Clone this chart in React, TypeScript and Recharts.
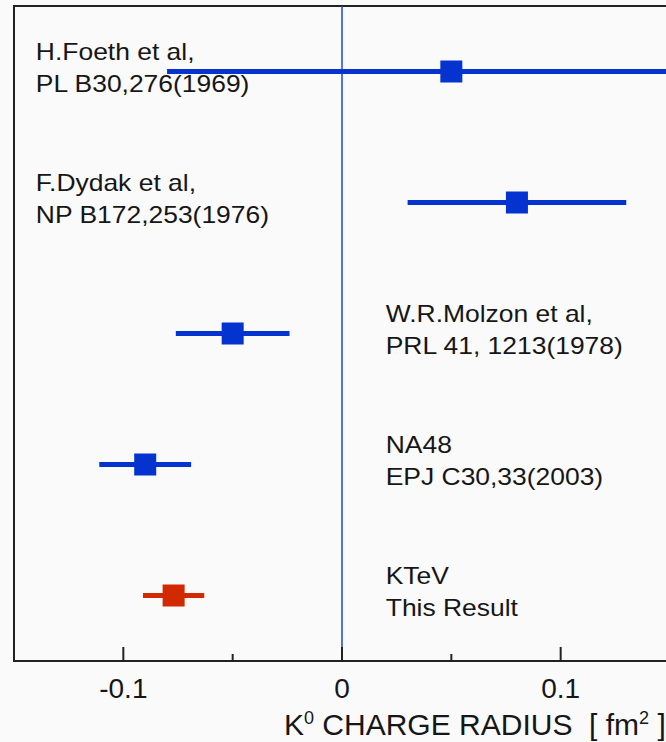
import React from 'react';
import {
  ErrorBar,
  ReferenceArea,
  ReferenceLine,
  Scatter,
  ScatterChart,
  XAxis,
  YAxis,
} from 'recharts';

// K0 mean square charge radius measurements [fm^2]
const authors = ['H.Foeth et al,', 'F.Dydak et al,', 'W.R.Molzon et al,', 'NA48', 'KTeV'];
const references = ['PL B30,276(1969)', 'NP B172,253(1976)', 'PRL 41, 1213(1978)', 'EPJ C30,33(2003)', 'This Result'];
const radius = [0.05, 0.08, -0.05, -0.09, -0.077];
const radiusErr = [0.13, 0.05, 0.026, 0.021, 0.014];
const rowIndex = [5, 4, 3, 2, 1];
const labelSide = ['left', 'left', 'right', 'right', 'right'];
const isThisResult = [false, false, false, false, true];

const xTicks = [-0.1, -0.05, 0, 0.05, 0.1];
const majorTicks = [-0.1, 0, 0.1];

const W = 680;
const H = 742;
const MARGIN = { top: 6, right: 10, bottom: 0, left: 14 };
const X_AXIS_H = 81;
const PLOT_BOTTOM = H - X_AXIS_H;

const BLUE = '#0433cf';
const RED = '#d22a00';
const INK = '#161616';
const FONT = '"Liberation Sans", Arial, Helvetica, sans-serif';

// label anchor in data units, per side
const LABEL_X: Record<string, number> = { left: -0.14, right: 0.02 };

const rows = authors.map((a, i) => ({
  x: radius[i],
  y: rowIndex[i],
  err: radiusErr[i],
  author: a,
  ref: references[i],
  side: labelSide[i],
  ours: isThisResult[i],
}));
const previous = rows.filter((r) => !r.ours);
const ours = rows.filter((r) => r.ours);
const labels = rows.map((r) => ({ ...r, x: LABEL_X[r.side] }));

function Square(props: any) {
  const { cx, cy, fill } = props;
  const s = 22;
  return <rect x={cx - s / 2} y={cy - s / 2} width={s} height={s} fill={fill} />;
}

function EntryLabel(props: any) {
  const { cx, cy, payload } = props;
  const style = { fontFamily: FONT, fontSize: 23, fill: INK } as const;
  return (
    <g transform={`translate(${cx},${cy}) scale(1.15,1)`}>
      <text x={0} y={-12} style={style}>{payload.author}</text>
      <text x={0} y={21} style={style}>{payload.ref}</text>
    </g>
  );
}

function AxisTick(props: any) {
  const { x, payload } = props;
  const major = majorTicks.includes(payload.value);
  return (
    <g>
      <line x1={x} x2={x} y1={PLOT_BOTTOM} y2={PLOT_BOTTOM - (major ? 14 : 7)} stroke="#222" strokeWidth={2} />
      {major && (
        <text x={x} y={PLOT_BOTTOM + 37} textAnchor="middle" style={{ fontFamily: FONT, fontSize: 28, fill: INK }}>
          {payload.value}
        </text>
      )}
    </g>
  );
}

function AxisTitle(props: any) {
  const vb = props.viewBox || { x: MARGIN.left, y: PLOT_BOTTOM };
  return (
    <text
      x={vb.x + 270}
      y={vb.y + 74}
      style={{ fontFamily: FONT, fontSize: 30, fill: INK, whiteSpace: 'pre' }}
    >
      <tspan>K</tspan>
      <tspan dy={-11} fontSize={18}>0</tspan>
      <tspan dy={11}>{' CHARGE RADIUS  [ fm'}</tspan>
      <tspan dy={-11} fontSize={18}>2</tspan>
      <tspan dy={11}>{' ]'}</tspan>
    </text>
  );
}

export default function App() {
  return (
    <div
      style={{
        position: 'absolute',
        left: 0,
        top: 0,
        width: 666,
        height: 742,
        overflow: 'hidden',
        background: '#fafafa',
      }}
    >
      <ScatterChart width={W} height={H} margin={MARGIN}>
        <XAxis
          type="number"
          dataKey="x"
          domain={[-0.15, 0.15]}
          allowDataOverflow
          ticks={xTicks}
          interval={0}
          axisLine={false}
          tickLine={false}
          tick={<AxisTick />}
          height={X_AXIS_H}
          label={{ content: (p: any) => <AxisTitle {...p} /> }}
        />
        <YAxis type="number" dataKey="y" domain={[0.5, 5.5]} allowDataOverflow hide />
        <ReferenceLine x={0} stroke="#2143d6" strokeWidth={1.5} />
        <Scatter data={previous} fill={BLUE} shape={<Square />} isAnimationActive={false}>
          <ErrorBar dataKey="err" direction="x" width={0} strokeWidth={5} stroke={BLUE} />
        </Scatter>
        <Scatter data={ours} fill={RED} shape={<Square />} isAnimationActive={false}>
          <ErrorBar dataKey="err" direction="x" width={0} strokeWidth={5} stroke={RED} />
        </Scatter>
        <Scatter data={labels} shape={<EntryLabel />} isAnimationActive={false} />
        <ReferenceArea
          x1={-0.15}
          x2={0.15}
          y1={0.5}
          y2={5.5}
          fill="none"
          stroke="#222"
          strokeWidth={2}
          ifOverflow="visible"
        />
      </ScatterChart>
    </div>
  );
}
